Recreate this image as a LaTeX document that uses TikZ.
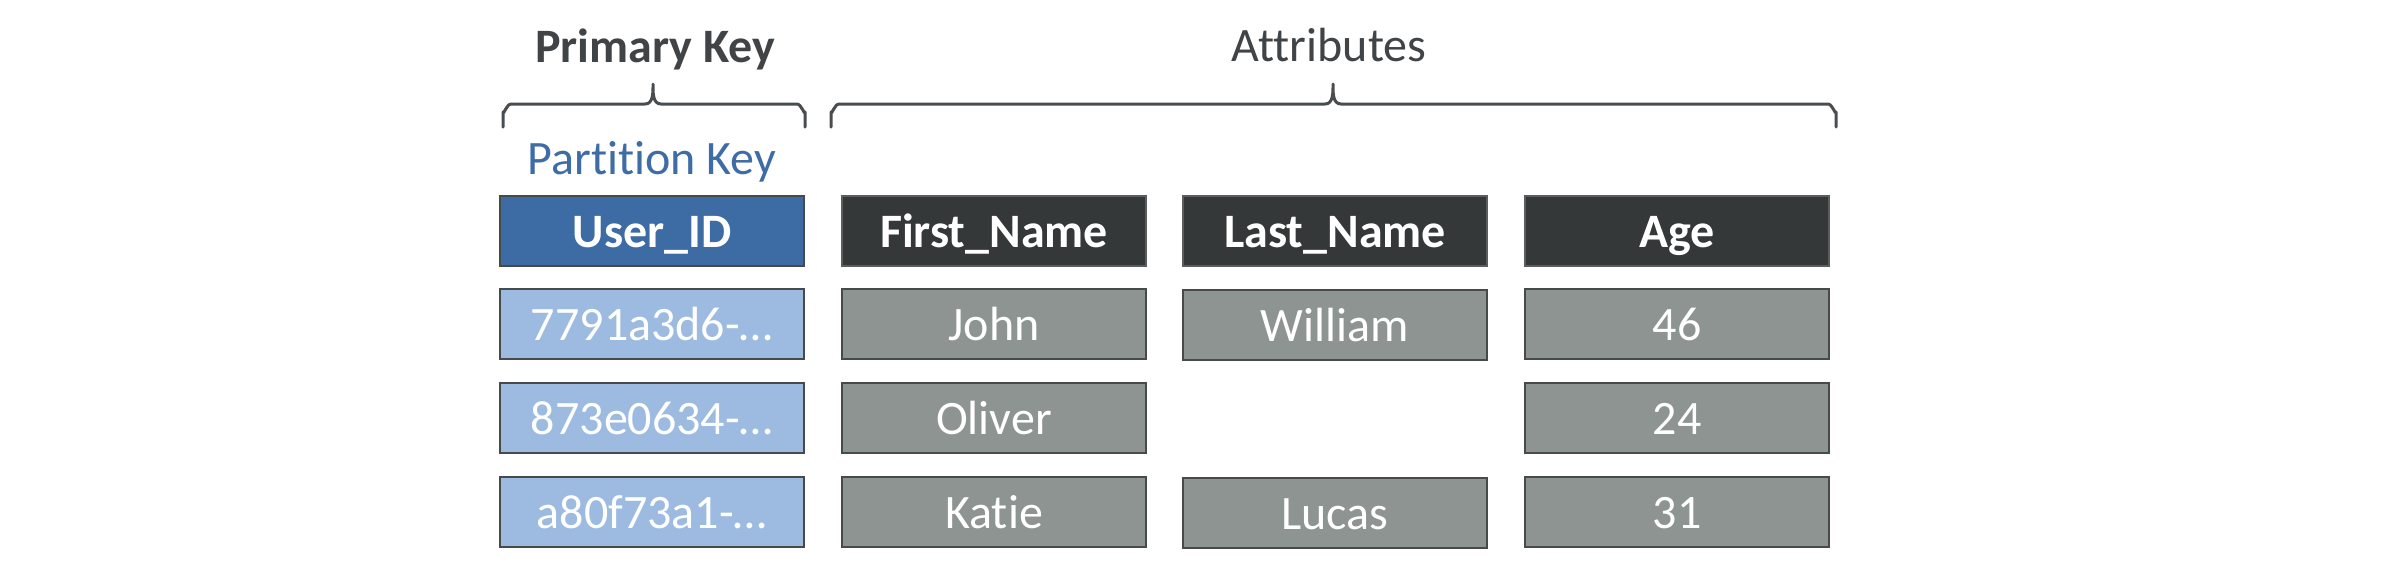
\documentclass[tikz,border=0pt]{standalone}
\usepackage{fontspec}
\setmainfont[Ligatures={NoCommon,NoRare}]{Carlito}
\definecolor{pkblue}{HTML}{3D6CA4}
\definecolor{pklight}{HTML}{9DBBE0}
\definecolor{darkhead}{HTML}{343839}
\definecolor{graycell}{HTML}{8D9492}
\definecolor{cellborder}{HTML}{474A4B}
\definecolor{headborder}{HTML}{5A5E5F}
\definecolor{textdark}{HTML}{404447}
\definecolor{partblue}{HTML}{3E6CA6}
\definecolor{bracecol}{HTML}{4A4D4F}
\begin{document}
\begin{tikzpicture}[x=0.25pt,y=-0.25pt,
  every node/.style={font=\fontsize{12}{14}\selectfont},
  box/.style={rectangle, inner sep=0pt, minimum width=76pt, minimum height=17.5pt,
              text height=0.8em, text depth=0pt, line width=0.7pt, text=white},
  pkhead/.style={box, fill=pkblue, draw=cellborder, font=\fontsize{12}{14}\selectfont\bfseries},
  pkcell/.style={box, fill=pklight, draw=cellborder},
  colhead/.style={box, fill=darkhead, draw=headborder, line width=0.5pt, font=\fontsize{12}{14}\selectfont\bfseries},
  cell/.style={box, fill=graycell, draw=cellborder},
  bracestyle/.style={draw=bracecol, line width=0.75pt, line cap=round, line join=round},
  toplabel/.style={anchor=base, text=textdark, inner sep=0pt}
]
\useasboundingbox (0,0) rectangle (2400,570);

% labels
\node[toplabel, font=\fontsize{12}{14}\selectfont\bfseries] (pk) at (655,62) {Primary Key};
\node[toplabel] (attr) at (1329,61) {Attributes};
\node[anchor=base, text=partblue, inner sep=0pt] (part) at (652,174) {Partition Key};

% braces
\draw[bracestyle] (503,127) -- (503,112) to[out=-90,in=180] (511,104) -- (645,104)
   to[out=0,in=-90] (653,84) to[out=-90,in=180] (661,104) -- (797,104)
   to[out=0,in=-90] (805,112) -- (805,127);
\draw[bracestyle] (831,127) -- (831,112) to[out=-90,in=180] (839,104) -- (1325,104)
   to[out=0,in=-90] (1333,84) to[out=-90,in=180] (1341,104) -- (1828,104)
   to[out=0,in=-90] (1836,112) -- (1836,127);

% header row
\node[pkhead]  (h1) at (652,231) {User\_ID};
\node[colhead] (h2) at (994,231) {First\_Name};
\node[colhead] (h3) at (1335,231) {Last\_Name};
\node[colhead] (h4) at (1677,231) {Age};

% row 1
\node[pkcell] (r1c1) at (652,324) {7791a3d6-…};
\node[cell]   (r1c2) at (994,324) {John};
\node[cell]   (r1c3) at (1335,325) {William};
\node[cell]   (r1c4) at (1677,324) {46};

% row 2
\node[pkcell] (r2c1) at (652,418) {873e0634-…};
\node[cell]   (r2c2) at (994,418) {Oliver};
\node[cell]   (r2c4) at (1677,418) {24};

% row 3
\node[pkcell] (r3c1) at (652,512) {a80f73a1-…};
\node[cell]   (r3c2) at (994,512) {Katie};
\node[cell]   (r3c3) at (1335,513) {Lucas};
\node[cell]   (r3c4) at (1677,512) {31};
\end{tikzpicture}
\end{document}
